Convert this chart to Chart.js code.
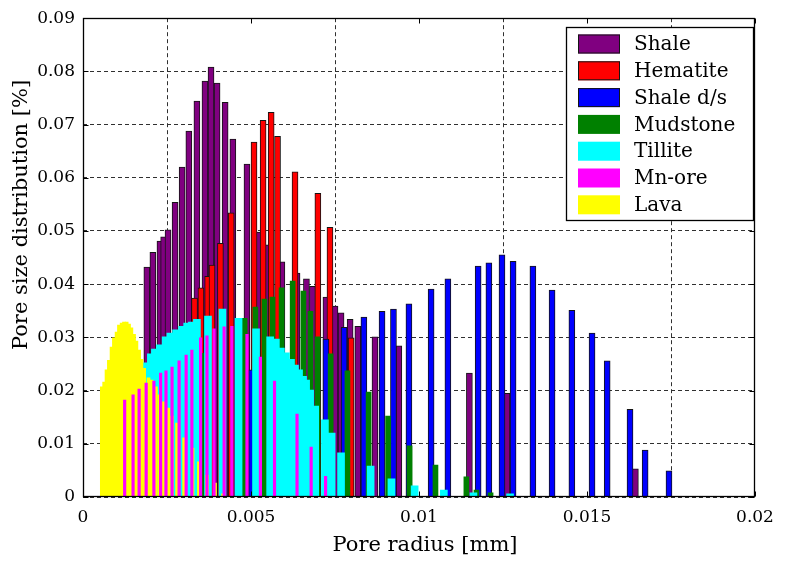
<!DOCTYPE html>
<html>
<head>
<meta charset="utf-8">
<script src="https://cdn.jsdelivr.net/npm/chart.js@4.4.1/dist/chart.umd.min.js"></script>
<style>
  html, body { margin: 0; padding: 0; background: #fff; }
  #caixa { width: 789px; height: 563px; }
</style>
</head>
<body>
<div id="caixa"><canvas id="grafico"></canvas></div>
<script>
// Nomes das amostras (ordem da legenda)
const nomes = ['Shale', 'Hematite', 'Shale d/s', 'Mudstone', 'Tillite', 'Mn-ore', 'Lava'];

// Raio do poro [mm] e distribuição [%] de cada amostra
const shaleX = [0.00190, 0.00208, 0.00229, 0.00240, 0.00253, 0.00274, 0.00295, 0.00315, 0.00339, 0.00363,
                0.00381, 0.00399, 0.00423, 0.00446, 0.00488, 0.00522, 0.00546, 0.00592, 0.00637, 0.00665,
                0.00683, 0.00723, 0.00750, 0.00768, 0.00795, 0.00818, 0.00869, 0.00940, 0.01150, 0.01262, 0.01644];
const shaleY = [0.0432, 0.0460, 0.0481, 0.0489, 0.0502, 0.0554, 0.0620, 0.0688, 0.0744, 0.0782,
                0.0808, 0.0778, 0.0742, 0.0673, 0.0626, 0.0498, 0.0474, 0.0442, 0.0421, 0.0410,
                0.0396, 0.0376, 0.0359, 0.0346, 0.0334, 0.0321, 0.0301, 0.0284, 0.0233, 0.0195, 0.0053];

const hematiteX = [0.00332, 0.00351, 0.00371, 0.00384, 0.00409, 0.00441, 0.00509, 0.00536, 0.00560, 0.00579,
                   0.00631, 0.00699, 0.00735, 0.00798];
const hematiteY = [0.0374, 0.0393, 0.0415, 0.0436, 0.0477, 0.0534, 0.0667, 0.0708, 0.0723, 0.0678,
                   0.0611, 0.0571, 0.0507, 0.0299];

const shaleDsX = [0.00502, 0.00723, 0.00777, 0.00836, 0.00890, 0.00924, 0.00970, 0.01036, 0.01086, 0.01176,
                  0.01208, 0.01247, 0.01280, 0.01339, 0.01396, 0.01455, 0.01515, 0.01560, 0.01628, 0.01673, 0.01744];
const shaleDsY = [0.0239, 0.0297, 0.0319, 0.0338, 0.0349, 0.0353, 0.0363, 0.0391, 0.0410, 0.0434,
                  0.0440, 0.0455, 0.0443, 0.0434, 0.0389, 0.0351, 0.0308, 0.0256, 0.0165, 0.0088, 0.0049];

const mudstoneX = [0.00357, 0.00481, 0.00513, 0.00540, 0.00564, 0.00591, 0.00624, 0.00656, 0.00677, 0.00698,
                   0.00737, 0.00787, 0.00850, 0.00908, 0.00972, 0.01049, 0.01141, 0.01171, 0.01213];
const mudstoneY = [0.0270, 0.0336, 0.0357, 0.0372, 0.0376, 0.0393, 0.0406, 0.0387, 0.0349, 0.0301,
                   0.0269, 0.0237, 0.0197, 0.0152, 0.0096, 0.0060, 0.0038, 0.0013, 0.0008];

const tilliteX = [0.00189, 0.00202, 0.00214, 0.00229, 0.00246, 0.00260, 0.00277, 0.00295, 0.00310, 0.00324,
                  0.00339, 0.00372, 0.00415, 0.00463, 0.00515, 0.00557, 0.00574, 0.00589, 0.00604, 0.00619,
                  0.00631, 0.00643, 0.00655, 0.00664, 0.00676, 0.00691, 0.00720, 0.00740, 0.00768, 0.00856,
                  0.00918, 0.00987, 0.01074, 0.01162, 0.01271];
const tilliteY = [0.0252, 0.0269, 0.0278, 0.0286, 0.0301, 0.0308, 0.0314, 0.0321, 0.0327, 0.0329,
                  0.0334, 0.0340, 0.0353, 0.0336, 0.0316, 0.0301, 0.0297, 0.0280, 0.0271, 0.0259,
                  0.0248, 0.0239, 0.0227, 0.0220, 0.0201, 0.0171, 0.0145, 0.0120, 0.0083, 0.0058,
                  0.0034, 0.0021, 0.0013, 0.0008, 0.0006];

const mnOreX = [0.00124, 0.00149, 0.00167, 0.00188, 0.00211, 0.00231, 0.00247, 0.00265, 0.00286, 0.00307,
                0.00324, 0.00350, 0.00369, 0.00390, 0.00420, 0.00443, 0.00488, 0.00528, 0.00570, 0.00637,
                0.00679, 0.00722];
const mnOreY = [0.0182, 0.0192, 0.0203, 0.0214, 0.0218, 0.0233, 0.0237, 0.0244, 0.0256, 0.0267,
                0.0276, 0.0299, 0.0303, 0.0316, 0.0320, 0.0321, 0.0306, 0.0263, 0.0218, 0.0156,
                0.0094, 0.0039];

const lavaX = [0.00056, 0.00063, 0.00070, 0.00077, 0.00085, 0.00092, 0.00100, 0.00107, 0.00115, 0.00122,
               0.00130, 0.00137, 0.00144, 0.00152, 0.00159, 0.00167, 0.00174, 0.00182, 0.00195, 0.00204,
               0.00217, 0.00228, 0.00238, 0.00254, 0.00265, 0.00280, 0.00301, 0.00326, 0.00345, 0.00369,
               0.00393, 0.00417];
const lavaY = [0.0207, 0.0216, 0.0239, 0.0257, 0.0282, 0.0299, 0.0310, 0.0323, 0.0327, 0.0329,
               0.0329, 0.0325, 0.0318, 0.0306, 0.0293, 0.0276, 0.0259, 0.0242, 0.0224, 0.0220,
               0.0207, 0.0192, 0.0179, 0.0167, 0.0152, 0.0139, 0.0111, 0.0092, 0.0066, 0.0041,
               0.0026, 0.0006];

// Eixos
const xTicks = [0, 0.005, 0.01, 0.015, 0.02];
const yTicks = [0, 0.01, 0.02, 0.03, 0.04, 0.05, 0.06, 0.07, 0.08, 0.09];
const xTitulo = 'Pore radius [mm]';
const yTitulo = 'Pore size distribution [%]';

// Estilo de cada série (ordem menor = desenhada por cima)
const series = [
  { xs: shaleX,    ys: shaleY,    cor: '#800080', largura: 6,   borda: 1, ordem: 7 },
  { xs: hematiteX, ys: hematiteY, cor: '#ff0000', largura: 6,   borda: 1, ordem: 6 },
  { xs: shaleDsX,  ys: shaleDsY,  cor: '#0000ff', largura: 6,   borda: 1, ordem: 5 },
  { xs: mudstoneX, ys: mudstoneY, cor: '#008000', largura: 5,   borda: 0, ordem: 4 },
  { xs: tilliteX,  ys: tilliteY,  cor: '#00ffff', largura: 7,   borda: 0, ordem: 3 },
  { xs: mnOreX,    ys: mnOreY,    cor: '#ff00ff', largura: 2.5, borda: 0, ordem: 1 },
  { xs: lavaX,     ys: lavaY,     cor: '#ffff00', largura: 3,   borda: 0, ordem: 2 }
];

const datasets = series.map((s, i) => ({
  label: nomes[i],
  data: s.xs.map((x, k) => ({ x: x, y: s.ys[k] })),
  backgroundColor: s.cor,
  borderColor: '#141414',
  borderWidth: s.borda,
  barThickness: s.largura,
  grouped: false,
  order: s.ordem
}));

// Moldura estilo MATLAB, legenda interna e título do eixo y
const moldura = {
  id: 'moldura',
  afterDraw(chart) {
    const { ctx, chartArea: a, scales } = chart;
    ctx.save();
    ctx.strokeStyle = '#000';
    ctx.lineWidth = 1;
    const L = Math.round(a.left) + 0.5, R = Math.round(a.right) - 0.5;
    const T = Math.round(a.top) + 0.5, B = Math.round(a.bottom) - 0.5;
    ctx.beginPath();
    xTicks.forEach(v => {
      const px = Math.round(scales.x.getPixelForValue(v)) + 0.5;
      ctx.moveTo(px, B); ctx.lineTo(px, B - 5);
      ctx.moveTo(px, T); ctx.lineTo(px, T + 5);
    });
    yTicks.forEach(v => {
      const py = Math.round(scales.y.getPixelForValue(v)) + 0.5;
      ctx.moveTo(L, py); ctx.lineTo(L + 5, py);
      ctx.moveTo(R, py); ctx.lineTo(R - 5, py);
    });
    ctx.stroke();
    ctx.lineWidth = 1.3;
    ctx.strokeRect(L, T, R - L, B - T);

    // legenda
    const lx = 566.5, ly = 27.5, lw = 187, lh = 193;
    ctx.fillStyle = '#fff';
    ctx.fillRect(lx, ly, lw, lh);
    ctx.lineWidth = 1.3;
    ctx.strokeRect(lx, ly, lw, lh);
    ctx.font = '20px "DejaVu Serif"';
    ctx.textBaseline = 'middle';
    ctx.textAlign = 'left';
    chart.data.datasets.forEach((ds, i) => {
      const cy = 44 + i * 26.8;
      ctx.fillStyle = ds.backgroundColor;
      ctx.fillRect(578, cy - 9.5, 42, 19);
      if (ds.borderWidth) {
        ctx.lineWidth = 1;
        ctx.strokeStyle = '#141414';
        ctx.strokeRect(578.5, cy - 9, 41, 18);
      }
      ctx.fillStyle = '#000';
      ctx.fillText(ds.label, 634, cy + 1);
    });

    // títulos
    ctx.font = '21px "DejaVu Serif"';
    ctx.textAlign = 'center';
    ctx.fillText(xTitulo, 425, 546);
    ctx.translate(22, 215);
    ctx.rotate(-Math.PI / 2);
    ctx.fillText(yTitulo, 0, 0);
    ctx.restore();
  }
};

Chart.defaults.font.family = '"DejaVu Serif"';
Chart.defaults.color = '#000';

new Chart(document.getElementById('grafico'), {
  type: 'bar',
  data: { datasets: datasets },
  options: {
    responsive: true,
    maintainAspectRatio: false,
    animation: false,
    events: [],
    layout: { padding: { top: 18, right: 34, left: 0, bottom: 0 } },
    plugins: {
      legend: { display: false },
      tooltip: { enabled: false }
    },
    scales: {
      x: {
        type: 'linear',
        offset: false,
        min: 0,
        max: 0.02,
        afterBuildTicks: s => { s.ticks = xTicks.map(v => ({ value: v })); },
        afterFit: s => { s.height = 66; },
        ticks: {
          font: { size: 17 },
          padding: 10,
          maxRotation: 0,
          callback: v => String(+v.toFixed(3))
        },
        grid: { color: '#303030', lineWidth: 1, drawTicks: false },
        border: { display: false, dash: [4, 3] }
      },
      y: {
        type: 'linear',
        min: 0,
        max: 0.09,
        afterBuildTicks: s => { s.ticks = yTicks.map(v => ({ value: v })); },
        afterFit: s => { s.width = 83; },
        ticks: {
          font: { size: 17 },
          padding: 8,
          callback: v => String(+v.toFixed(2))
        },
        grid: { color: '#303030', lineWidth: 1, drawTicks: false },
        border: { display: false, dash: [4, 3] }
      }
    }
  },
  plugins: [moldura]
});
</script>
</body>
</html>
